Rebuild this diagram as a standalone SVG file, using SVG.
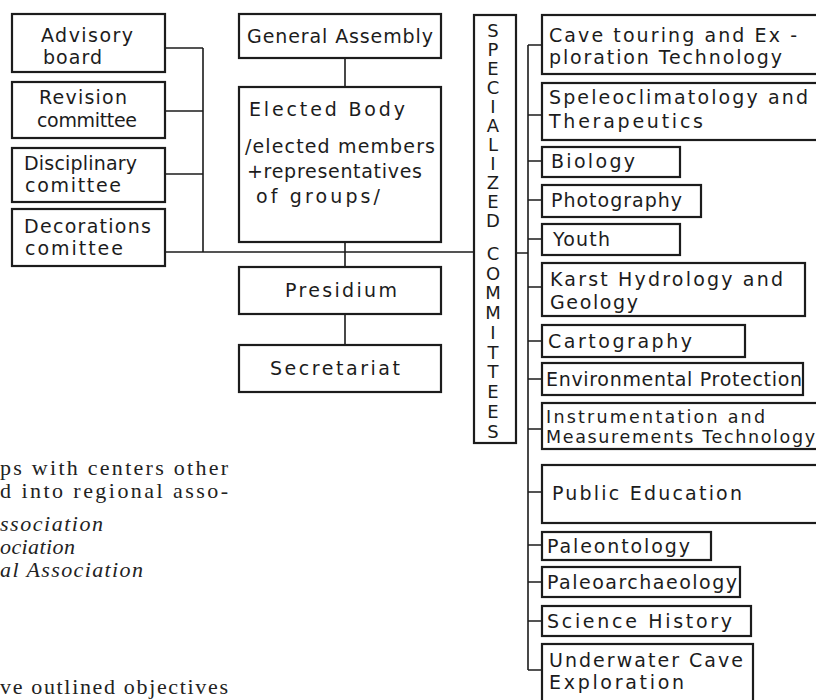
<svg xmlns="http://www.w3.org/2000/svg" width="816" height="700" viewBox="0 0 816 700">
<style>
.box{fill:#fff;stroke:#1c1c1c;stroke-width:2.2}
.ln{fill:none;stroke:#1c1c1c;stroke-width:1.6}
.t{font-family:"DejaVu Sans",sans-serif;font-size:19px;fill:#1c1c1c}
.ts{font-family:"DejaVu Sans",sans-serif;font-size:17.5px;fill:#1c1c1c}
.v{font-family:"DejaVu Sans",sans-serif;font-size:18px;fill:#1c1c1c;text-anchor:middle}
.s{font-family:"Liberation Serif",serif;font-size:22px;fill:#222}
.si{font-family:"Liberation Serif",serif;font-size:22px;font-style:italic;fill:#222}
</style>
<rect width="816" height="700" fill="#fff"/>
<g id="connectors">
<path class="ln" d="M165 48H203M165 111H203M165 174H203M203 48V252M165 252H473"/>
<path class="ln" d="M345 58V87M345 242V267M345 314V345"/>
<path class="ln" d="M517 253H528M528 45V670"/>
<path class="ln" d="M528 45H542M528 115H542M528 161H542M528 200H542M528 239H542M528 287H542M528 341H542M528 379H542M528 429H542M528 492H542M528 545H542M528 582H542M528 621H542M528 670H542"/>
</g>
<g id="advisory"><rect class="box" x="12" y="14" width="153" height="58"/><text class="t" x="41" y="42" textLength="92" lengthAdjust="spacing">Advisory</text><text class="t" x="43" y="64" textLength="59" lengthAdjust="spacing">board</text></g>
<g id="revision"><rect class="box" x="12" y="82" width="153" height="56"/><text class="t" x="39" y="104" textLength="88" lengthAdjust="spacing">Revision</text><text class="t" x="37" y="127" textLength="100" lengthAdjust="spacing">committee</text></g>
<g id="disciplinary"><rect class="box" x="12" y="148" width="153" height="54"/><text class="t" x="24" y="170" textLength="113" lengthAdjust="spacing">Disciplinary</text><text class="t" x="25" y="192" textLength="96" lengthAdjust="spacing">comittee</text></g>
<g id="decorations"><rect class="box" x="12" y="209" width="153" height="57"/><text class="t" x="24" y="233" textLength="127" lengthAdjust="spacing">Decorations</text><text class="t" x="25" y="255" textLength="98" lengthAdjust="spacing">comittee</text></g>
<g id="general-assembly"><rect class="box" x="239" y="14" width="202" height="44"/><text class="t" x="247" y="43" textLength="186" lengthAdjust="spacing">General Assembly</text></g>
<g id="elected-body"><rect class="box" x="239" y="87" width="202" height="155"/><text class="t" x="249" y="116" textLength="156" lengthAdjust="spacing">Elected  Body</text><text class="t" x="245" y="153" textLength="190" lengthAdjust="spacing">/elected members</text><text class="t" x="247" y="178" textLength="175" lengthAdjust="spacing">+representatives</text><text class="t" x="256" y="203" textLength="124" lengthAdjust="spacing">of groups/</text></g>
<g id="presidium"><rect class="box" x="239" y="267" width="202" height="47"/><text class="t" x="285" y="297" textLength="112" lengthAdjust="spacing">Presidium</text></g>
<g id="secretariat"><rect class="box" x="239" y="345" width="202" height="47"/><text class="t" x="270" y="375" textLength="130" lengthAdjust="spacing">Secretariat</text></g>
<g id="specialized-committees"><rect class="box" x="474" y="15" width="42" height="428"/>
<text class="v"><tspan x="493" y="37">S</tspan><tspan x="493" y="56">P</tspan><tspan x="493" y="75">E</tspan><tspan x="493" y="94">C</tspan><tspan x="493" y="113">I</tspan><tspan x="493" y="132">A</tspan><tspan x="493" y="151">L</tspan><tspan x="493" y="170">I</tspan><tspan x="493" y="189">Z</tspan><tspan x="493" y="208">E</tspan><tspan x="493" y="227">D</tspan></text>
<text class="v"><tspan x="493" y="260">C</tspan><tspan x="493" y="280">O</tspan><tspan x="493" y="299">M</tspan><tspan x="493" y="319">M</tspan><tspan x="493" y="339">I</tspan><tspan x="493" y="359">T</tspan><tspan x="493" y="378">T</tspan><tspan x="493" y="398">E</tspan><tspan x="493" y="418">E</tspan><tspan x="493" y="438">S</tspan></text></g>
<g id="cave-touring"><rect class="box" x="542" y="15" width="290" height="59"/><text class="t" x="549" y="42" textLength="248" lengthAdjust="spacing">Cave touring and  Ex -</text><text class="t" x="549" y="64" textLength="233" lengthAdjust="spacing">ploration Technology</text></g>
<g id="speleoclimatology"><rect class="box" x="542" y="83" width="290" height="57"/><text class="t" x="549" y="104" textLength="259" lengthAdjust="spacing">Speleoclimatology and</text><text class="t" x="549" y="128" textLength="154" lengthAdjust="spacing">Therapeutics</text></g>
<g id="biology"><rect class="box" x="542" y="147" width="138" height="30"/><text class="t" x="551" y="168" textLength="84" lengthAdjust="spacing">Biology</text></g>
<g id="photography"><rect class="box" x="542" y="185" width="159" height="32"/><text class="t" x="551" y="207" textLength="131" lengthAdjust="spacing">Photography</text></g>
<g id="youth"><rect class="box" x="542" y="224" width="138" height="31"/><text class="t" x="553" y="246" textLength="57" lengthAdjust="spacing">Youth</text></g>
<g id="karst"><rect class="box" x="542" y="263" width="263" height="53"/><text class="t" x="550" y="286" textLength="233" lengthAdjust="spacing">Karst  Hydrology  and</text><text class="t" x="550" y="309" textLength="88" lengthAdjust="spacing">Geology</text></g>
<g id="cartography"><rect class="box" x="542" y="325" width="203" height="32"/><text class="t" x="548" y="348" textLength="144" lengthAdjust="spacing">Cartography</text></g>
<g id="environmental"><rect class="box" x="542" y="363" width="261" height="32"/><text class="t" x="546" y="386" textLength="256" lengthAdjust="spacing">Environmental Protection</text></g>
<g id="instrumentation"><rect class="box" x="542" y="403" width="290" height="46"/><text class="ts" x="546" y="423" textLength="219" lengthAdjust="spacing">Instrumentation  and</text><text class="ts" x="546" y="443" textLength="269" lengthAdjust="spacing">Measurements Technology</text></g>
<g id="public-education"><rect class="box" x="542" y="465" width="290" height="58"/><text class="t" x="552" y="500" textLength="190" lengthAdjust="spacing">Public  Education</text></g>
<g id="paleontology"><rect class="box" x="542" y="532" width="169" height="28"/><text class="t" x="547" y="553" textLength="143" lengthAdjust="spacing">Paleontology</text></g>
<g id="paleoarchaeology"><rect class="box" x="542" y="567" width="198" height="30"/><text class="t" x="547" y="589" textLength="190" lengthAdjust="spacing">Paleoarchaeology</text></g>
<g id="science-history"><rect class="box" x="542" y="606" width="209" height="30"/><text class="t" x="547" y="628" textLength="185" lengthAdjust="spacing">Science  History</text></g>
<g id="underwater"><rect class="box" x="542" y="644" width="211" height="60"/><text class="t" x="549" y="667" textLength="194" lengthAdjust="spacing">Underwater  Cave</text><text class="t" x="549" y="689" textLength="135" lengthAdjust="spacing">Exploration</text></g>
<g id="body-text">
<text class="s" x="0" y="475" textLength="228" lengthAdjust="spacing">ps with centers other</text>
<text class="s" x="0" y="498" textLength="228" lengthAdjust="spacing">d into regional asso-</text>
<text class="si" x="0" y="531" textLength="103" lengthAdjust="spacing">ssociation</text>
<text class="si" x="0" y="554" textLength="75" lengthAdjust="spacing">ociation</text>
<text class="si" x="0" y="577" textLength="143" lengthAdjust="spacing">al Association</text>
<text class="s" x="0" y="694" textLength="228" lengthAdjust="spacing">ve outlined objectives</text>
</g>
</svg>
